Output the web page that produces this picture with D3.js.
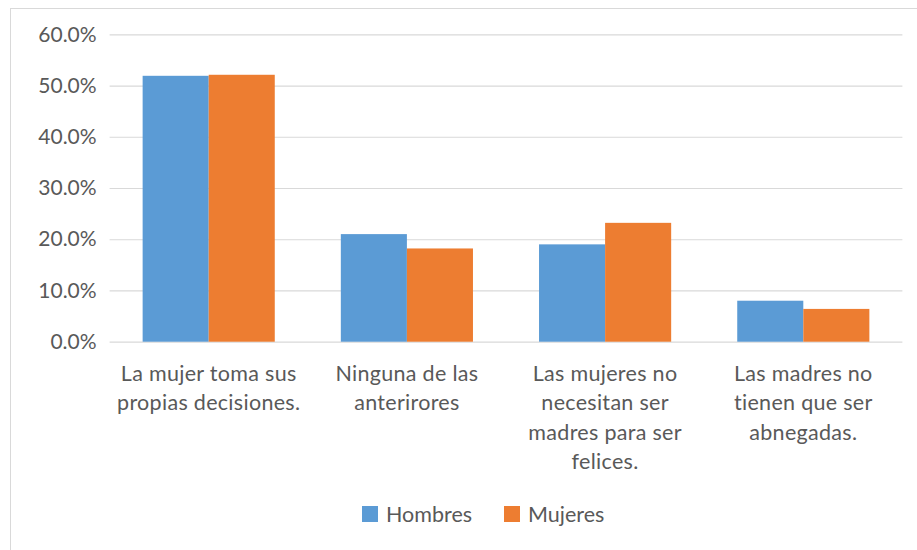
<!DOCTYPE html>
<html>
<head>
<meta charset="utf-8">
<script src="https://cdn.jsdelivr.net/npm/d3@7"></script>
<style>
  html, body { margin: 0; padding: 0; background: #ffffff; }
  svg { display: block; }
  text { font-family: Lato, "Open Sans", sans-serif; fill: #595959; }
</style>
</head>
<body>
<svg id="chart" width="917" height="550"></svg>
<script>
// Survey answers by respondent sex (share of respondents)
const categories = [
  "La mujer toma sus propias decisiones.",
  "Ninguna de las anterirores",
  "Las mujeres no necesitan ser madres para ser felices.",
  "Las madres no tienen que ser abnegadas."
];
// Wrapped axis labels, one array of lines per category
const categoryLines = [
  ["La mujer toma sus", "propias decisiones."],
  ["Ninguna de las", "anterirores"],
  ["Las mujeres no", "necesitan ser", "madres para ser", "felices."],
  ["Las madres no", "tienen que ser", "abnegadas."]
];
const seriesNames = ["Hombres", "Mujeres"];
const hombres = [0.519, 0.210, 0.190, 0.080];
const mujeres = [0.521, 0.182, 0.232, 0.064];
const yTicks = [0, 0.1, 0.2, 0.3, 0.4, 0.5, 0.6];
const colors = ["#5B9BD5", "#ED7D31"];

const svg = d3.select("#chart");
const W = 917, H = 550;

// Chart area frame
svg.append("rect")
  .attr("x", 10.5).attr("y", 8.5)
  .attr("width", W + 10).attr("height", H + 10)
  .attr("fill", "#ffffff")
  .attr("stroke", "#d9d9d9").attr("stroke-width", 1);

const plot = { left: 109.6, right: 902.4, top: 34.3, bottom: 341.7 };

const y = d3.scaleLinear().domain([0, 0.6]).range([plot.bottom, plot.top]);
const x0 = d3.scaleBand().domain(categories)
  .range([plot.left, plot.right])
  .paddingInner(1 / 3).paddingOuter(1 / 6);
const x1 = d3.scaleBand().domain(seriesNames).range([0, x0.bandwidth()]);

// Horizontal gridlines + y tick labels via a left axis
const yAxis = d3.axisLeft(y)
  .tickValues(yTicks)
  .tickFormat(d3.format(".1%"))
  .tickSize(-(plot.right - plot.left))
  .tickPadding(13);

const gy = svg.append("g")
  .attr("transform", `translate(${plot.left},0)`)
  .call(yAxis);
gy.select(".domain").remove();
gy.selectAll(".tick line").attr("stroke", "#d9d9d9").attr("stroke-width", 1.2);
gy.selectAll(".tick text")
  .attr("font-size", 21)
  .style("fill", "#595959")
  .style("font-family", "Lato, sans-serif");

// Bars
const table = categories.map((c, i) => ({ cat: c, values: [hombres[i], mujeres[i]] }));
const groups = svg.append("g").selectAll("g")
  .data(table).join("g")
  .attr("transform", d => `translate(${x0(d.cat)},0)`);

groups.selectAll("rect")
  .data(d => d.values.map((v, k) => ({ key: seriesNames[k], value: v, k })))
  .join("rect")
  .attr("x", d => x1(d.key))
  .attr("y", d => y(d.value))
  .attr("width", x1.bandwidth())
  .attr("height", d => y(0) - y(d.value))
  .attr("fill", d => colors[d.k]);

// Category labels (centred, multi-line)
const labels = svg.append("g").selectAll("text")
  .data(categories).join("text")
  .attr("text-anchor", "middle")
  .attr("font-size", 21.5)
  .attr("letter-spacing", 0.3)
  .attr("x", d => x0(d) + x0.bandwidth() / 2)
  .attr("y", 380.5);
labels.each(function (d, i) {
  const t = d3.select(this);
  categoryLines[i].forEach((line, j) => {
    t.append("tspan")
      .attr("x", x0(d) + x0.bandwidth() / 2)
      .attr("dy", j === 0 ? 0 : 29.5)
      .text(line);
  });
});

// Legend
const legend = svg.append("g");
const legendItems = [
  { name: seriesNames[0], color: colors[0], x: 362 },
  { name: seriesNames[1], color: colors[1], x: 504 }
];
legendItems.forEach(it => {
  legend.append("rect")
    .attr("x", it.x).attr("y", 506)
    .attr("width", 16).attr("height", 16)
    .attr("fill", it.color);
  legend.append("text")
    .attr("x", it.x + 24).attr("y", 521.5)
    .attr("font-size", 21.5)
    .text(it.name);
});
</script>
</body>
</html>
